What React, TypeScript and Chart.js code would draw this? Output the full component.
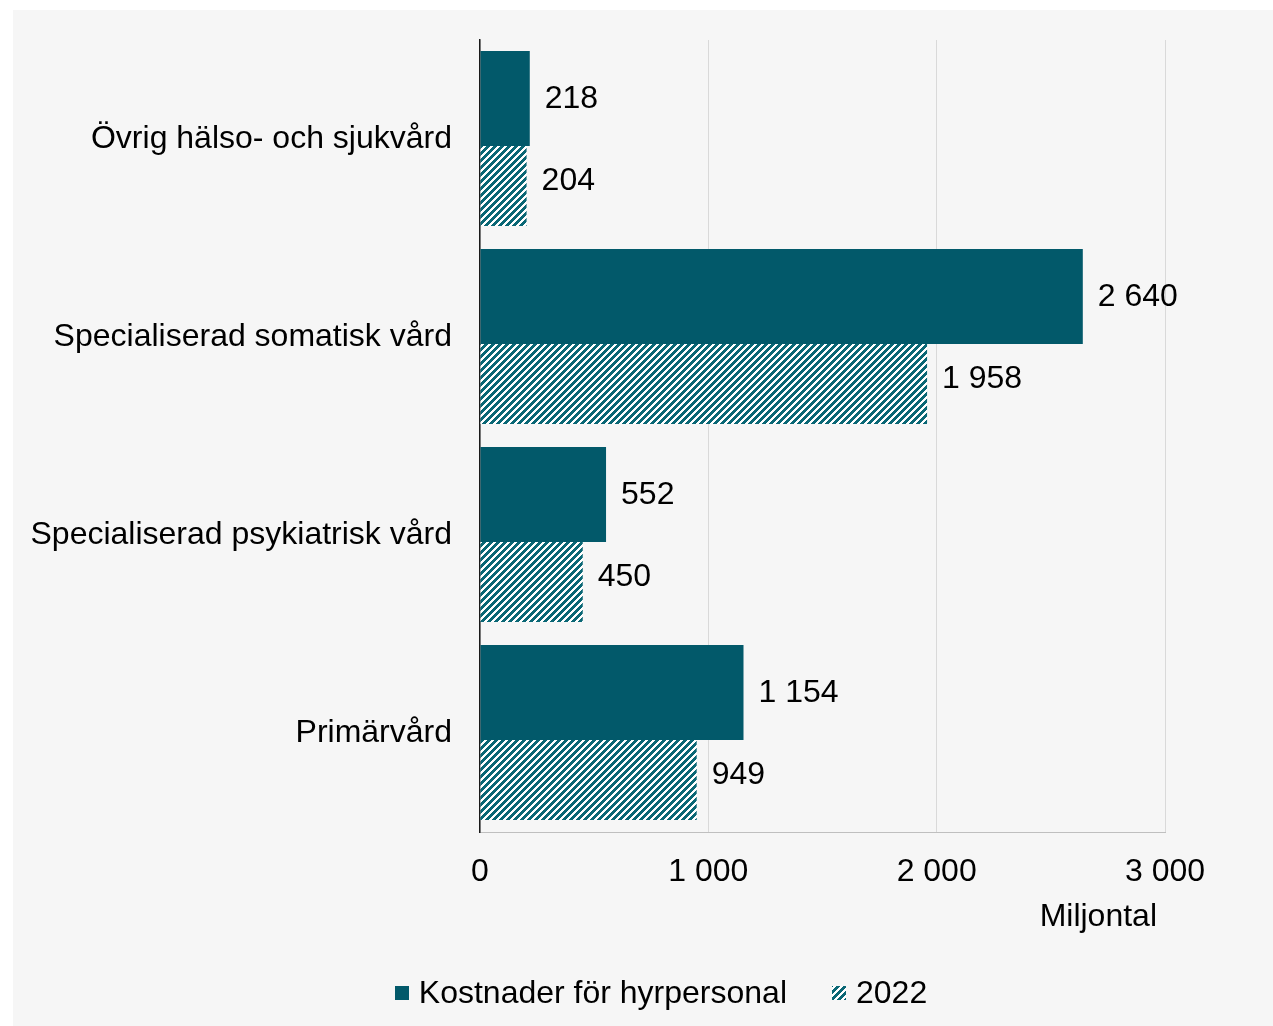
import React, { useEffect, useRef } from "react";
import { Chart, registerables } from "chart.js";

Chart.register(...registerables);

const categories = [
  "Övrig hälso- och sjukvård",
  "Specialiserad somatisk vård",
  "Specialiserad psykiatrisk vård",
  "Primärvård",
];
const seriesNames = ["Kostnader för hyrpersonal", "2022"];
const costs = [218, 2640, 552, 1154];
const values2022 = [204, 1958, 450, 949];
const xTicks = [0, 1000, 2000, 3000];
const xAxisTitle = "Miljontal";

const TEAL = "#02596a";
const FONT = "'Liberation Sans', Arial, sans-serif";
const FS = 32;

function fmt(n: number): string {
  return String(n).replace(/\B(?=(\d{3})+(?!\d))/g, " ");
}

function makePattern(): CanvasPattern | string {
  const P = 7;
  const c = document.createElement("canvas");
  c.width = P;
  c.height = P;
  const ctx = c.getContext("2d");
  if (!ctx) return TEAL;
  ctx.fillStyle = "#ffffff";
  ctx.fillRect(0, 0, P, P);
  ctx.fillStyle = "#0a6775";
  for (let y = 0; y < P; y++) {
    for (let x = 0; x < P; x++) {
      if ((x + y) % P < 4) ctx.fillRect(x, y, 1, 1);
    }
  }
  const p = ctx.createPattern(c, "repeat");
  return p || TEAL;
}

const labelPlugin = {
  id: "barValueLabels",
  afterDatasetsDraw(chart: any) {
    const ctx = chart.ctx;
    ctx.save();
    ctx.font = `${FS}px ${FONT}`;
    ctx.fillStyle = "#000";
    ctx.textAlign = "left";
    ctx.textBaseline = "middle";
    chart.data.datasets.forEach((ds: any, di: number) => {
      const meta = chart.getDatasetMeta(di);
      const dy = di === 1 ? -6 : 0;
      meta.data.forEach((el: any, i: number) => {
        ctx.fillText(fmt(ds.data[i]), el.x + 15, el.y + dy + 1);
      });
    });
    const xs = chart.scales.x;
    ctx.textAlign = "right";
    ctx.fillText(xAxisTitle, xs.right - 8, xs.top + 85);
    ctx.restore();
  },
};

const legendPlugin = {
  id: "customLegend",
  afterDraw(chart: any) {
    const ctx = chart.ctx;
    const box = 14;
    const boxGap = 10;
    const itemGap = 45;
    const centerX = 648;
    const centerY = 983;
    ctx.save();
    ctx.font = `${FS}px ${FONT}`;
    ctx.textBaseline = "middle";
    ctx.textAlign = "left";
    const items = chart.data.datasets.map((ds: any) => ({
      text: ds.label,
      fill: ds.backgroundColor,
      w: ctx.measureText(ds.label).width,
    }));
    let total = 0;
    items.forEach((it: any, i: number) => {
      total += box + boxGap + it.w + (i > 0 ? itemGap : 0);
    });
    let x = centerX - total / 2;
    items.forEach((it: any, i: number) => {
      if (i > 0) x += itemGap;
      ctx.fillStyle = it.fill;
      ctx.fillRect(Math.round(x), Math.round(centerY - box / 2), box, box);
      x += box + boxGap;
      ctx.fillStyle = "#000";
      ctx.fillText(it.text, x, centerY + 1);
      x += it.w;
    });
    ctx.restore();
  },
};

export default function App() {
  const ref = useRef<HTMLCanvasElement | null>(null);

  useEffect(() => {
    if (!ref.current) return;
    const pattern = makePattern();
    const chart = new Chart(ref.current, {
      type: "bar",
      data: {
        labels: categories,
        datasets: [
          {
            label: seriesNames[0],
            data: costs,
            backgroundColor: TEAL,
            borderWidth: 0,
            categoryPercentage: 0.818,
            barPercentage: 1.173,
          },
          {
            label: seriesNames[1],
            data: values2022,
            backgroundColor: pattern as any,
            borderWidth: 0,
            categoryPercentage: 0.949,
            barPercentage: 0.851,
          },
        ],
      },
      options: {
        indexAxis: "y",
        animation: false,
        responsive: false,
        devicePixelRatio: 1,
        layout: { padding: { top: 30, right: 108, left: 0, bottom: 94 } },
        scales: {
          x: {
            min: 0,
            max: 3000,
            afterBuildTicks: (scale: any) => {
              scale.ticks = xTicks.map((v) => ({ value: v }));
            },
            afterFit: (scale: any) => {
              scale.height = 100;
              scale.paddingLeft = 0;
              scale.paddingRight = 0;
            },
            grid: { color: "#d9d9d9", lineWidth: 1, drawTicks: false },
            border: { color: "#bfbfbf", width: 1 },
            ticks: {
              padding: 21,
              color: "#000",
              font: { family: FONT, size: FS },
              callback: (v: any) => fmt(Number(v)),
            },
          },
          y: {
            afterFit: (scale: any) => {
              scale.width = 467;
              scale.paddingTop = 0;
              scale.paddingBottom = 0;
            },
            grid: { display: false, drawTicks: false },
            border: { color: "#1a1a1a", width: 1.5 },
            ticks: {
              padding: 28,
              color: "#000",
              font: { family: FONT, size: FS },
            },
          },
        },
        plugins: {
          legend: { display: false },
          tooltip: { enabled: false },
        },
      },
      plugins: [labelPlugin, legendPlugin],
    } as any);
    return () => chart.destroy();
  }, []);

  return (
    <div
      style={{
        position: "absolute",
        left: 13,
        top: 10,
        width: 1260,
        height: 1016,
        background: "#f6f6f6",
      }}
    >
      <canvas ref={ref} width={1260} height={1016} style={{ width: 1260, height: 1016, display: "block" }} />
    </div>
  );
}
